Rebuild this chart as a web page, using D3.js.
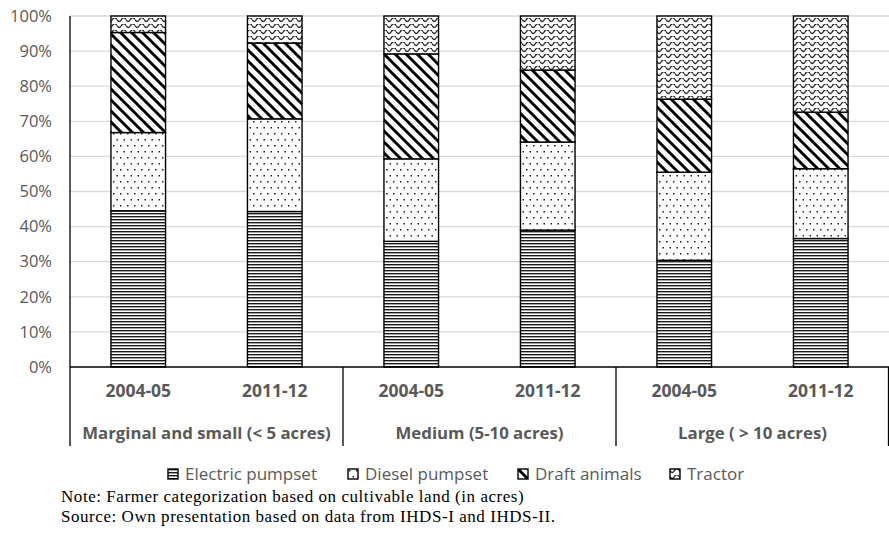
<!DOCTYPE html>
<meta charset="utf-8">
<style>
body { margin: 0; background: #fff; }
text { font-family: "Open Sans", sans-serif; }
.note { font-family: "Liberation Serif", serif; font-size: 17px; letter-spacing: 0.55px; fill: #000; }
</style>
<svg width="889" height="535"></svg>
<script src="https://d3js.org/d3.v7.min.js"></script>
<script>

var groups = ["Marginal and small (< 5 acres)", "Medium (5-10 acres)", "Large ( > 10 acres)"];
var years = ["2004-05", "2011-12"];
var series = ["Electric pumpset", "Diesel pumpset", "Draft animals", "Tractor"];

// shares in %, bar order: group x year
var electric = [44.5, 44.3, 35.8, 39.0, 30.4, 36.6];
var diesel   = [22.3, 26.4, 23.5, 25.1, 25.1, 19.9];
var draft    = [28.5, 21.6, 29.9, 20.5, 20.8, 16.1];
var tractor  = [4.7, 7.7, 10.8, 15.4, 23.7, 27.4];

var yTicks = [0, 10, 20, 30, 40, 50, 60, 70, 80, 90, 100];

var notes = [
  "Note: Farmer categorization based on cultivable land (in acres)",
  "Source: Own presentation based on data from IHDS-I and IHDS-II."
];

var svg = d3.select("svg"),
    margin = {left: 70, right: 0, top: 16},
    plotBottom = 367,
    width = 889 - margin.left - margin.right;

var bars = [];
groups.forEach(function(g, gi) {
  years.forEach(function(yr, yi) {
    var i = gi * years.length + yi;
    bars.push({key: g + "|" + yr, group: g, year: yr,
               values: [electric[i], diesel[i], draft[i], tractor[i]]});
  });
});

// patterns
var defs = svg.append("defs");

var pE = defs.append("pattern").attr("id", "p0").attr("patternUnits", "userSpaceOnUse")
    .attr("width", 6).attr("height", 3);
pE.append("rect").attr("width", 6).attr("height", 3).attr("fill", "#fff");
pE.append("rect").attr("y", 0).attr("width", 6).attr("height", 1.2).attr("fill", "#1a1a1a");
pE.append("rect").attr("y", 1.2).attr("width", 6).attr("height", 0.8).attr("fill", "#9a9a9a");

var pD = defs.append("pattern").attr("id", "p1").attr("patternUnits", "userSpaceOnUse")
    .attr("width", 14).attr("height", 12);
pD.append("rect").attr("width", 14).attr("height", 12).attr("fill", "#fff");
[[1, 1], [8, 1], [4.5, 7], [11.5, 7]].forEach(function(p) {
  pD.append("rect").attr("x", p[0]).attr("y", p[1]).attr("width", 1.5).attr("height", 1.5).attr("fill", "#222");
});

var pA = defs.append("pattern").attr("id", "p2").attr("patternUnits", "userSpaceOnUse")
    .attr("width", 11).attr("height", 11);
pA.append("rect").attr("width", 11).attr("height", 11).attr("fill", "#fff");
pA.append("path").attr("d", "M-3,-3L14,14M-3,8L3,14M8,-3L14,3")
    .attr("stroke", "#000").attr("stroke-width", 2.9);

var pT = defs.append("pattern").attr("id", "p3").attr("patternUnits", "userSpaceOnUse")
    .attr("width", 9).attr("height", 6);
pT.append("rect").attr("width", 9).attr("height", 6).attr("fill", "#fff");
pT.append("path").attr("d", "M0,1.5Q2.25,5.5 4.5,1.5T9,1.5")
    .attr("fill", "none").attr("stroke", "#222").attr("stroke-width", 1.3);

// scales
var x0 = d3.scaleBand().domain(groups).range([margin.left, margin.left + width]);
var x1 = d3.scaleBand().domain(years).range([0, x0.bandwidth()]).paddingInner(0.6).paddingOuter(0.3);
var y = d3.scaleLinear().domain([0, 100]).range([plotBottom, margin.top]);

// gridlines
svg.append("g").selectAll("line").data(yTicks.slice(1)).enter().append("line")
    .attr("x1", margin.left).attr("x2", margin.left + width)
    .attr("y1", function(d) { return y(d); }).attr("y2", function(d) { return y(d); })
    .attr("stroke", "#d9d9d9").attr("stroke-width", 1.3);

// y axis labels
var yAxis = svg.append("g").attr("transform", "translate(" + margin.left + ",0)")
    .call(d3.axisLeft(y).tickValues(yTicks).tickFormat(function(d) { return d + "%"; }).tickSize(0).tickPadding(18));
yAxis.select(".domain").remove();
yAxis.selectAll("text").attr("font-family", "'Open Sans', sans-serif").attr("font-size", 16.5).attr("fill", "#595959");

// stacked bars
var stack = d3.stack().keys([0, 1, 2, 3]).value(function(d, k) { return d.values[k]; });
var layers = stack(bars);

svg.append("g").selectAll("g").data(layers).enter().append("g")
    .attr("fill", function(d, i) { return "url(#p" + i + ")"; })
  .selectAll("rect").data(function(d) { return d; }).enter().append("rect")
    .attr("x", function(d) { return x0(d.data.group) + x1(d.data.year); })
    .attr("width", x1.bandwidth())
    .attr("y", function(d) { return y(d[1]); })
    .attr("height", function(d) { return y(d[0]) - y(d[1]); })
    .attr("stroke", "#000").attr("stroke-width", 1.4);

// x axis line and separators
svg.append("line").attr("x1", margin.left).attr("x2", margin.left + width)
    .attr("y1", plotBottom).attr("y2", plotBottom).attr("stroke", "#000").attr("stroke-width", 1.3);
svg.append("line").attr("x1", margin.left).attr("x2", margin.left)
    .attr("y1", margin.top).attr("y2", plotBottom).attr("stroke", "#000").attr("stroke-width", 1.3);

var sepX = groups.map(function(g) { return x0(g); }).concat([margin.left + width - 0.5]);
svg.append("g").selectAll("line").data(sepX).enter().append("line")
    .attr("x1", function(d) { return d; }).attr("x2", function(d) { return d; })
    .attr("y1", plotBottom).attr("y2", 446)
    .attr("stroke", "#000").attr("stroke-width", 1.3);

// year labels
svg.append("g").selectAll("text").data(bars).enter().append("text")
    .attr("x", function(d) { return x0(d.group) + x1(d.year) + x1.bandwidth() / 2; })
    .attr("y", 397)
    .attr("text-anchor", "middle")
    .attr("font-size", 17.5).attr("font-weight", "bold").attr("fill", "#595959")
    .text(function(d) { return d.year; });

// group labels
svg.append("g").selectAll("text").data(groups).enter().append("text")
    .attr("x", function(d) { return x0(d) + x0.bandwidth() / 2; })
    .attr("y", 439)
    .attr("text-anchor", "middle")
    .attr("font-size", 16.8).attr("font-weight", "bold").attr("fill", "#595959")
    .text(function(d) { return d; });

// legend
var legendX = [168, 348, 518, 670];
var legend = svg.append("g").selectAll("g").data(series).enter().append("g")
    .attr("transform", function(d, i) { return "translate(" + legendX[i] + ",469)"; });
legend.append("rect").attr("width", 10).attr("height", 10)
    .attr("fill", function(d, i) { return "url(#p" + i + ")"; })
    .attr("stroke", "#000").attr("stroke-width", 1.4);
legend.append("text").attr("x", 17).attr("y", 11)
    .attr("font-size", 17).attr("fill", "#595959")
    .text(function(d) { return d; });

// notes
svg.append("g").selectAll("text").data(notes).enter().append("text")
    .attr("class", "note")
    .attr("x", 61).attr("y", function(d, i) { return 502 + i * 19.5; })
    .text(function(d) { return d; });

</script>
